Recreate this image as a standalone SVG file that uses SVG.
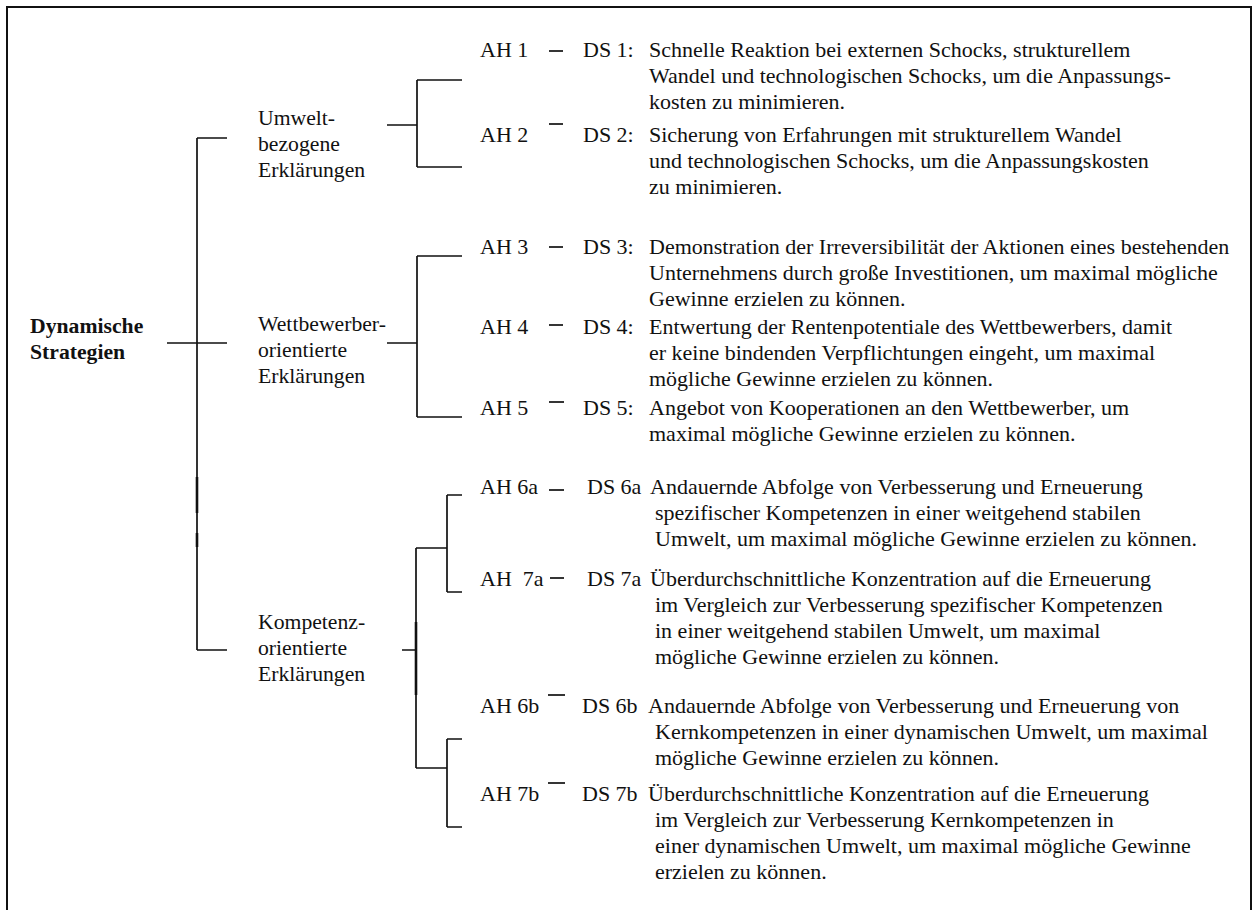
<svg xmlns="http://www.w3.org/2000/svg" width="1258" height="910" viewBox="0 0 1258 910">
  <style>
    text { font-family: "Liberation Serif", "Times New Roman", serif; font-size: 22px; fill: #111; white-space: pre; }
    .lbl { font-size: 21.7px; }
    .root { font-weight: bold; font-size: 21.7px; }
    .ln { fill: none; stroke: #111; stroke-width: 1.7; }
    .thick { fill: none; stroke: #111; stroke-width: 2.6; }
    .frame { fill: none; stroke: #111; stroke-width: 2; }
  </style>

  <!-- outer frame (open at the bottom) -->
  <path class="frame" d="M7,915 V7 H1251 V915"/>

  <!-- connectors -->
  <g id="connectors">
    <!-- root to level 2 -->
    <path class="ln" d="M167,343 H227 M197,138 V650 M197,138 H227 M197,650 H227"/>
    <path class="thick" d="M197,477 V513 M197,533 V547"/>
    <!-- environment branch -->
    <path class="ln" d="M387,125 H417 M417,80 V167 M417,80 H462 M417,167 H462"/>
    <!-- competitor branch -->
    <path class="ln" d="M387,343 H417 M417,256 V417 M417,256 H462 M417,417 H462"/>
    <!-- competence branch -->
    <path class="ln" d="M402,650 H416 M416,548 V768 M416,548 H447 M416,768 H447"/>
    <path class="thick" d="M416,622 V695"/>
    <path class="ln" d="M447,495 V592 M447,495 H462 M447,592 H462"/>
    <path class="ln" d="M447,739 V827 M447,739 H462 M447,827 H462"/>
    <!-- AH to DS dashes -->
    <path class="ln" d="M549,51 H563"/>
    <path class="ln" d="M549,124 H563"/>
    <path class="ln" d="M549,247 H563"/>
    <path class="ln" d="M549,325 H563"/>
    <path class="ln" d="M549,402 H564"/>
    <path class="ln" d="M549,490 H564"/>
    <path class="ln" d="M550,578 H564"/>
    <path class="ln" d="M548,695 H565"/>
    <path class="ln" d="M548,783 H565"/>
  </g>

  <g id="root">
    <text class="root" x="30" y="333">Dynamische</text>
    <text class="root" x="30" y="359">Strategien</text>
  </g>

  <g id="env">
    <text class="lbl" x="258" y="125">Umwelt-</text>
    <text class="lbl" x="258" y="151">bezogene</text>
    <text class="lbl" x="258" y="177">Erklärungen</text>
  </g>
  <g id="comp">
    <text class="lbl" x="258" y="331">Wettbewerber-</text>
    <text class="lbl" x="258" y="357">orientierte</text>
    <text class="lbl" x="258" y="383">Erklärungen</text>
  </g>
  <g id="kompetenz">
    <text class="lbl" x="258" y="629">Kompetenz-</text>
    <text class="lbl" x="258" y="655">orientierte</text>
    <text class="lbl" x="258" y="681">Erklärungen</text>
  </g>

  <g id="ah1">
    <text x="480" y="57">AH 1</text>
    <text x="583" y="57">DS 1:</text>
    <text x="649" y="57">Schnelle Reaktion bei externen Schocks, strukturellem</text>
    <text x="649" y="83">Wandel und technologischen Schocks, um die Anpassungs-</text>
    <text x="649" y="109">kosten zu minimieren.</text>
  </g>
  <g id="ah2">
    <text x="480" y="142">AH 2</text>
    <text x="583" y="142">DS 2:</text>
    <text x="649" y="142">Sicherung von Erfahrungen mit strukturellem Wandel</text>
    <text x="649" y="168">und technologischen Schocks, um die Anpassungskosten</text>
    <text x="649" y="194">zu minimieren.</text>
  </g>
  <g id="ah3">
    <text x="480" y="254">AH 3</text>
    <text x="583" y="254">DS 3:</text>
    <text x="649" y="254">Demonstration der Irreversibilität der Aktionen eines bestehenden</text>
    <text x="649" y="280">Unternehmens durch große Investitionen, um maximal mögliche</text>
    <text x="649" y="306">Gewinne erzielen zu können.</text>
  </g>
  <g id="ah4">
    <text x="480" y="334">AH 4</text>
    <text x="583" y="334">DS 4:</text>
    <text x="649" y="334">Entwertung der Rentenpotentiale des Wettbewerbers, damit</text>
    <text x="649" y="360">er keine bindenden Verpflichtungen eingeht, um maximal</text>
    <text x="649" y="386">mögliche Gewinne erzielen zu können.</text>
  </g>
  <g id="ah5">
    <text x="480" y="415">AH 5</text>
    <text x="583" y="415">DS 5:</text>
    <text x="649" y="415">Angebot von Kooperationen an den Wettbewerber, um</text>
    <text x="649" y="441">maximal mögliche Gewinne erzielen zu können.</text>
  </g>
  <g id="ah6a">
    <text x="480" y="494">AH 6a</text>
    <text x="587" y="494">DS 6a</text>
    <text x="650" y="494">Andauernde Abfolge von Verbesserung und Erneuerung</text>
    <text x="655" y="520">spezifischer Kompetenzen in einer weitgehend stabilen</text>
    <text x="655" y="546">Umwelt, um maximal mögliche Gewinne erzielen zu können.</text>
  </g>
  <g id="ah7a">
    <text x="480" y="586">AH  7a</text>
    <text x="587" y="586">DS 7a</text>
    <text x="650" y="586">Überdurchschnittliche Konzentration auf die Erneuerung</text>
    <text x="655" y="612">im Vergleich zur Verbesserung spezifischer Kompetenzen</text>
    <text x="655" y="638">in einer weitgehend stabilen Umwelt, um maximal</text>
    <text x="655" y="664">mögliche Gewinne erzielen zu können.</text>
  </g>
  <g id="ah6b">
    <text x="480" y="713">AH 6b</text>
    <text x="582" y="713">DS 6b</text>
    <text x="648" y="713">Andauernde Abfolge von Verbesserung und Erneuerung von</text>
    <text x="655" y="739">Kernkompetenzen in einer dynamischen Umwelt, um maximal</text>
    <text x="655" y="765">mögliche Gewinne erzielen zu können.</text>
  </g>
  <g id="ah7b">
    <text x="480" y="801">AH 7b</text>
    <text x="582" y="801">DS 7b</text>
    <text x="648" y="801">Überdurchschnittliche Konzentration auf die Erneuerung</text>
    <text x="655" y="827">im Vergleich zur Verbesserung Kernkompetenzen in</text>
    <text x="655" y="853">einer dynamischen Umwelt, um maximal mögliche Gewinne</text>
    <text x="655" y="879">erzielen zu können.</text>
  </g>
</svg>
